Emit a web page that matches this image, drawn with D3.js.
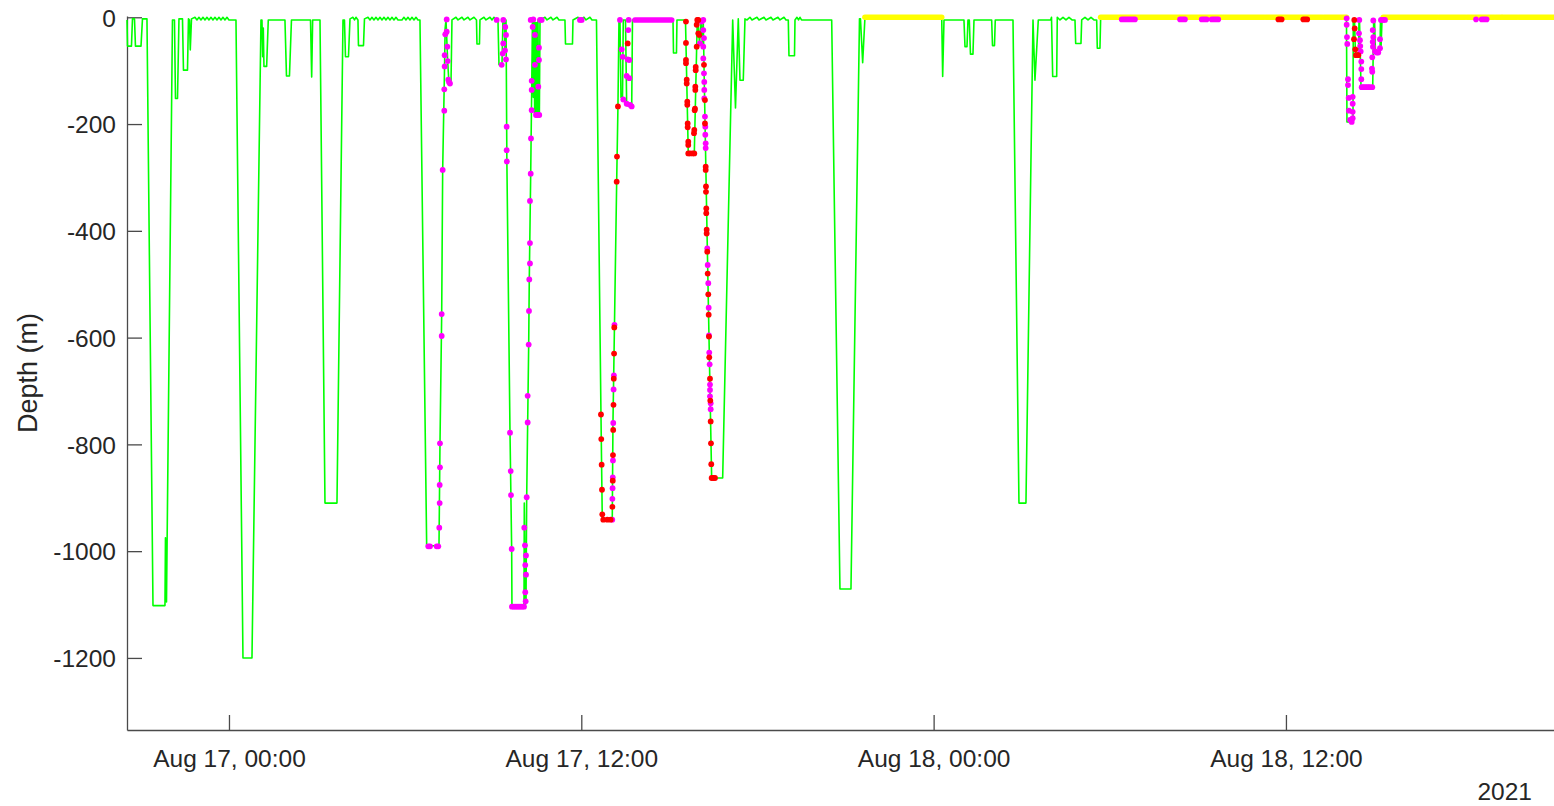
<!DOCTYPE html>
<html><head><meta charset="utf-8">
<script src="https://cdn.jsdelivr.net/npm/d3@7"></script>
<style>
body{margin:0;background:#fff}
svg{display:block}
text{font-family:"Liberation Sans",Arial,Helvetica,sans-serif;fill:#262626}
</style>
</head><body>
<svg id="chart" width="1554" height="806"></svg>
<script>
// time in minutes since 2021-08-17 00:00 (UTC), depth in metres
const T0 = Date.UTC(2021, 7, 17, 0, 0);
const xDomainMinutes = [-208.4, 2707.8];
const yDomain = [-1335, 2.4];
const xTickMinutes = [0, 720, 1440, 2160];
const xTickLabels = ["Aug 17, 00:00", "Aug 17, 12:00", "Aug 18, 00:00", "Aug 18, 12:00"];
const yTicks = [-1200, -1000, -800, -600, -400, -200, 0];
const yearLabel = "2021";
const yLabel = "Depth (m)";

// green dive profile
const diveProfile = [
[-208.4,-5],[-207.4,-54],[-199.3,-54],[-197.2,-3],[-193.1,-3],[-191.1,-54],[-179.8,-54],[-176.8,-3],[-167.6,-3],
[-155.3,-1102],[-130.8,-1102],[-129.8,-975],[-127.7,-1095],[-115.5,-5],[-111.4,-5],[-109.3,-152],[-105.2,-152],[-102.2,-3],
[-95.0,-3],[-93.0,-99],[-84.8,-99],[-82.8,-3],[-80.7,-5],[-79.1,-61],[-76.6,-3],
[-69.5,0],[-65.4,-5],[-61.3,0],[-57.2,-5],[-53.1,0],[-49.0,-5],[-45.0,0],[-40.9,-5],[-36.8,0],[-32.7,-5],[-28.6,0],
[-24.5,-5],[-20.4,0],[-16.3,-5],[-12.3,0],[-8.2,-5],[-4.1,0],[0,-5],[14.3,-5],
[28.6,-1200],[47.0,-1200],[65.4,-5],[67.4,-5],[68.9,-74],[70.1,-20],[71.5,-92],[77.0,-92],[80.3,-5],[114.4,-5],
[117.5,-110],[123.6,-110],[127.7,-5],[166.6,-5],[169.0,-112],[171.0,-5],[186.0,-5],
[196.2,-910],[220.7,-910],[233.0,-5],[236.0,-5],[238.1,-74],[244.2,-74],[247.3,-3],[253.4,0],[256.5,-5],[259.5,0],
[263.6,-5],[264.6,-53],[274.9,-53],[276.9,-3],
[284.1,0],[288.2,-5],[292.2,0],[296.3,-5],[300.4,0],[304.5,-5],[308.6,0],[312.7,-5],[316.8,0],[320.8,-5],[324.9,0],
[329.0,-5],[333.1,0],[337.2,-5],[341.3,0],[345.4,-5],[353.5,-5],[357.6,0],[361.7,-5],[365.8,0],[369.9,-5],[374.0,0],
[378.1,-5],[382.2,0],[386.2,-5],[390.3,-5],
[404.0,-990],[429.2,-990],[431.2,-800],[434.7,-556],[436.7,-286],[440.4,-100],[441.8,-20],[443.5,-5],[446.9,-82],
[449.6,-124],[453.7,-124],[455.7,-5],
[463.9,0],[468.0,-5],[476.2,0],[480.3,-5],[488.4,0],[492.5,-5],[500.7,0],[505.8,-5],[506.8,-50],[511.9,-50],[512.9,-5],
[521.1,0],[525.2,-5],[533.4,0],[537.5,-5],[541.6,0],[545.7,-5],[549.7,-5],
[551.8,-89],[557.9,-89],[559.9,-5],[563.0,-5],[564.0,-62],[565.1,-18],[566.1,-5],[566.7,-80],[567.9,-270],[574.3,-778],
[577.7,-996],[578.3,-1104],[602.9,-1104],[603.5,-910],[605.9,-1100],[607.0,-1095],[608.4,-899],[612.5,-613],[613.7,-491],
[616.6,-293],[618.6,-136],[620.2,-5],[621.9,-150],[623.3,-5],[624.7,-183],[626.2,-10],[627.4,-183],[628.8,-10],[630.0,-183],
[631.5,-5],[632.7,-183],[634.3,-183],[635.6,-5],
[645.8,0],[649.9,-5],[658.0,0],[662.1,-5],[670.3,0],[674.4,-5],[686.6,-5],[687.7,-50],[702.0,-50],[703.0,-5],[713.2,0],
[717.3,-5],[725.5,0],[729.6,-5],[737.7,0],[741.8,-5],[751.0,-5],
[760.2,-744],[762.9,-941],[783.3,-941],[784.7,-760],[787.8,-576],[792.3,-308],[794.9,-167],[797.0,-5],[799.0,-5],
[801.1,-150],[804.2,-150],[805.8,-5],[810.3,-5],[812.7,-165],[823.0,-167],[824.6,-5],[907.4,-5],[908.4,-67],[914.5,-67],
[915.5,-5],[932.9,-5],[938.6,-255],[950.9,-255],[957.0,-5],[958.4,-5],[961.5,-50],[964.9,-8],[968.0,-55],[969.2,-5],
[970.7,-89],[978.3,-470],[986.4,-863],[1008.9,-863],[1029.4,-5],[1035.1,-170],[1040.8,-3],[1044.3,-118],[1051.0,-118],[1054.5,-3],
[1058.8,-5],[1064.7,0],[1068.8,-5],[1079.0,0],[1083.1,-5],[1093.3,0],[1097.4,-5],[1107.6,0],[1111.7,-5],[1121.9,0],
[1126.0,-5],[1134.2,0],[1138.3,-5],[1143.0,-5],[1144.4,-72],[1155.7,-72],[1156.7,-5],[1160.8,0],[1163.9,-5],[1166.9,0],
[1170.0,-5],[1231.7,-5],
[1248.6,-1071],[1271.1,-1071],[1288.5,-3],[1290.5,-3],[1295.0,-85],[1299.7,0],[1456.5,0],[1458.5,-111],[1461.2,-5],
[1502.0,-5],[1504.1,-55],[1508.2,-55],[1510.2,-5],[1512.9,-5],[1515.3,-69],[1520.4,-69],[1522.5,-5],[1558.6,-5],
[1560.3,-53],[1564.4,-53],[1566.0,-5],[1602.2,-5],
[1614.4,-910],[1628.7,-910],[1643.1,-5],[1647.1,-118],[1653.9,-5],[1679.2,-5],[1680.9,0],[1683.3,-111],[1691.5,-111],
[1692.7,0],[1698.2,-5],[1704.4,0],[1710.5,-5],[1716.6,0],[1722.8,-5],[1728.9,-5],[1730.3,-49],[1741.1,-49],[1742.6,-5],
[1749.3,0],[1755.5,-5],[1761.6,0],[1767.7,-5],[1773.2,-5],[1774.5,-58],[1779.9,-58],[1781.4,0],
[2283.7,0],[2284.7,-196],[2297.0,-196],[2297.6,-5],[2300.1,-5],[2302.1,-71],[2308.2,-71],[2309.3,-5],[2310.3,-5],
[2313.4,-131],[2337.3,-131],[2339.3,-5],[2341.0,-5],[2343.0,-66],[2352.2,-66],[2353.2,-5],[2354.2,-60],[2356.3,-5],
[2358.3,0],[2707.8,0]
];

// magenta samples
const magentaPoints = [
[407.3,-991],[410.8,-991],[424.5,-991],[427.7,-991],[429.8,-956],[430.6,-910],[430.6,-876],[431.2,-843],[431.2,-798],
[434.7,-597],[434.7,-556],[436.7,-286],[440.0,-175],[440.0,-135],[440.8,-92],[440.8,-71],[442.0,-32],[444.9,-27],
[444.9,-4],[446.1,-55],[446.9,-82],[448.2,-117],[449.6,-121],[451.6,-124],
[547.1,-5],[557.3,-89],[559.3,-68],[560.6,-49],[560.6,-5],[564.0,-62],[564.6,-18],[566.1,-33],[566.1,-79],[567.5,-205],
[567.5,-249],[567.9,-270],[574.3,-778],[575.7,-850],[576.3,-895],[577.7,-996],[578.3,-1104],[582.4,-1104],[586.5,-1104],
[590.6,-1104],[594.7,-1104],[598.8,-1104],[602.9,-1104],[603.5,-956],[604.9,-989],[607.0,-1008],[605.5,-1026],
[607.0,-1044],[605.5,-1077],[606.3,-1094],[608.4,-899],[610.4,-759],[610.4,-709],[612.5,-613],[613.1,-550],[613.7,-491],
[615.1,-461],[615.1,-423],[615.1,-344],[616.6,-293],[617.2,-227],[618.6,-174],[618.6,-136],[618.6,-119],[616.6,-5],
[621.9,-4],[625.3,-89],[625.3,-33],[633.5,-80],[633.5,-57],[632.1,-130],[620.6,-18],[627.4,-183],[630.0,-183],
[634.1,-183],[635.6,-5],[639.0,-5],[717.3,-5],[720.8,-5],
[783.3,-941],[783.5,-902],[783.9,-882],[784.3,-862],[784.7,-830],[785.3,-760],[786.0,-697],[786.6,-671],[787.8,-576],
[799.0,-5],[802.5,-60],[804.6,-74],[805.8,-154],[812.7,-110],[812.7,-162],[814.8,-79],[816.0,-24],[816.8,-5],
[818.1,-80],[818.1,-114],[819.5,-164],[823.0,-167],
[962.5,-49],[969.3,-55],[969.3,-24],[969.3,-5],[970.7,-39],[966.0,-8],
[969.3,-77],[970.7,-105],[971.3,-121],[971.3,-136],[971.3,-152],[972.7,-186],[973.4,-205],[973.4,-220],[974.2,-236],
[974.2,-245],[977.4,-433],[978.3,-464],[979.5,-498],[980.3,-544],[980.9,-596],[981.5,-628],[982.3,-650],[983.0,-688],
[983.0,-698],[983.0,-710],[984.4,-723],[984.4,-734],
[2284.1,-2],[2284.1,-14],[2284.7,-37],[2285.3,-50],[2286.8,-116],[2286.8,-127],[2288.2,-151],[2288.8,-175],[2290.9,-192],
[2294.4,-196],[2296.4,-189],[2296.4,-177],[2296.4,-162],[2296.4,-149],[2309.9,-5],[2309.3,-30],[2311.3,-43],[2311.9,-54],
[2312.7,-64],[2314.0,-83],[2314.0,-97],[2314.0,-116],[2314.8,-131],[2318.1,-131],[2321.5,-131],[2325.0,-131],
[2328.4,-131],[2331.7,-131],[2336.4,-131],[2336.4,-102],[2336.4,-75],[2335.8,-96],[2337.9,-55],[2337.3,-46],[2337.3,-24],
[2338.5,-37],[2338.5,-6],[2342.0,-64],[2345.4,-66],[2348.7,-66],[2352.2,-58],[2352.2,-41],[2354.2,-5],[2358.9,-5],[2362.4,-5]
];

// red samples
const redPoints = [
[760.2,-744],[760.8,-790],[761.6,-838],[762.3,-885],[762.9,-931],[764.9,-941],[773.1,-941],[780.0,-941],[783.5,-917],
[784.3,-868],[784.7,-820],[785.2,-773],[785.8,-726],[786.4,-677],[787.0,-630],[787.4,-581],[792.3,-308],[792.9,-261],
[794.9,-167],[814.8,-49],
[933.9,-8],[933.9,-48],[933.9,-80],[933.9,-86],[935.4,-117],[935.4,-124],[936.6,-158],[936.6,-164],[937.4,-199],
[937.4,-206],[938.6,-233],[938.6,-239],[938.6,-255],[942.1,-255],[947.6,-255],[950.9,-255],[950.3,-217],[950.9,-211],
[951.7,-174],[952.3,-171],[953.0,-136],[953.0,-130],[953.8,-99],[953.8,-93],[955.8,-55],[955.8,-14],[957.0,-5],
[959.1,-30],[959.1,-5],[961.1,-33],
[970.7,-89],[972.7,-155],[972.7,-199],[974.2,-280],[974.2,-286],[974.8,-317],[974.8,-327],[975.4,-358],[975.4,-367],
[976.2,-398],[976.2,-405],[977.4,-439],[978.3,-480],[979.5,-519],[980.3,-557],[980.9,-598],[981.5,-637],[983.0,-677],
[983.6,-718],[984.4,-757],[985.0,-798],[985.6,-837],[986.4,-863],[989.7,-863],[993.2,-863],
[2299.7,-5],[2300.5,-21],[2299.1,-41],[2301.7,-60],[2303.1,-71],[2305.8,-71],[2307.9,-71]
];

// continuous runs of surface samples: [start, end, depth]
const yellowRuns = [
[1299.7,1456.5,0],[1781.4,2115.0,0],[2119.0,2233.0,0],[2237.0,2283.7,0],[2358.9,2468.0,0],[2472.0,2526.0,0],
[2530.0,2585.0,0],[2589.0,2600.0,0],[2603.0,2632.0,0],[2636.0,2707.8,0]
];
const magentaRuns = [
[829.7,904.7,-5],[1824.3,1851.5,-4],[1943.5,1953.7,-4],[1987.8,1998.0,-4],[2008.2,2021.7,-4],[2548.4,2548.4,-4],[2560.0,2570.2,-4]
];
const redRuns = [
[2144.4,2151.3,-4],[2195.4,2203.6,-4]
];

(function () {
  const toDate = m => new Date(T0 + m * 60000);
  const svg = d3.select("#chart");
  const pLeft = 127, pRight = 1554, pTop = 16, pBottom = 730;
  const x = d3.scaleUtc().domain(xDomainMinutes.map(toDate)).range([pLeft, pRight]);
  const y = d3.scaleLinear().domain(yDomain).range([pBottom, pTop]);
  const axisColor = "#4a4a4a";

  const gx = svg.append("g").attr("transform", `translate(0,${pBottom})`)
    .call(d3.axisBottom(x).tickValues(xTickMinutes.map(toDate))
      .tickFormat((d, i) => xTickLabels[i]).tickSizeInner(-15).tickSizeOuter(0));
  const gy = svg.append("g").attr("transform", `translate(${pLeft},0)`)
    .call(d3.axisLeft(y).tickValues(yTicks).tickFormat(d => String(d))
      .tickSizeInner(-15).tickSizeOuter(0).tickPadding(11));
  [gx, gy].forEach(g => {
    g.attr("font-family", null).attr("font-size", null);
    g.select(".domain").attr("stroke", axisColor).attr("stroke-width", 1.3);
    g.selectAll(".tick line").attr("stroke", axisColor).attr("stroke-width", 1.3);
    g.selectAll(".tick text").style("font-size", "24.5px").attr("fill", "#262626");
  });
  gx.selectAll(".tick text").attr("y", 37).attr("dy", 0);
  gy.selectAll(".tick text").attr("dy", "0.36em");

  svg.append("text").attr("transform", `translate(37,${(pTop + pBottom) / 2}) rotate(-90)`)
    .attr("text-anchor", "middle").style("font-size", "27px").text(yLabel);
  svg.append("text").attr("x", 1532).attr("y", 800).attr("text-anchor", "end")
    .style("font-size", "24.5px").text(yearLabel);

  const line = d3.line().x(d => x(toDate(d[0]))).y(d => y(d[1]));
  svg.append("path").datum(diveProfile).attr("d", line)
    .attr("fill", "none").attr("stroke", "#00ff00").attr("stroke-width", 1.6).attr("stroke-linejoin", "round");

  function drawRuns(runs, color) {
    svg.append("g").selectAll("line").data(runs).join("line")
      .attr("x1", d => x(toDate(d[0]))).attr("x2", d => x(toDate(d[1])))
      .attr("y1", d => y(d[2])).attr("y2", d => y(d[2]))
      .attr("stroke", color).attr("stroke-width", 5.6).attr("stroke-linecap", "round");
  }
  function drawPoints(pts, color) {
    svg.append("g").selectAll("circle").data(pts).join("circle")
      .attr("cx", d => x(toDate(d[0]))).attr("cy", d => y(d[1])).attr("r", 2.9).attr("fill", color);
  }
  drawRuns(yellowRuns, "#ffff00");
  drawRuns(magentaRuns, "#ff00ff");
  drawPoints(magentaPoints, "#ff00ff");
  drawRuns(redRuns, "#ff0000");
  drawPoints(redPoints, "#ff0000");
})();
</script>
</body></html>
